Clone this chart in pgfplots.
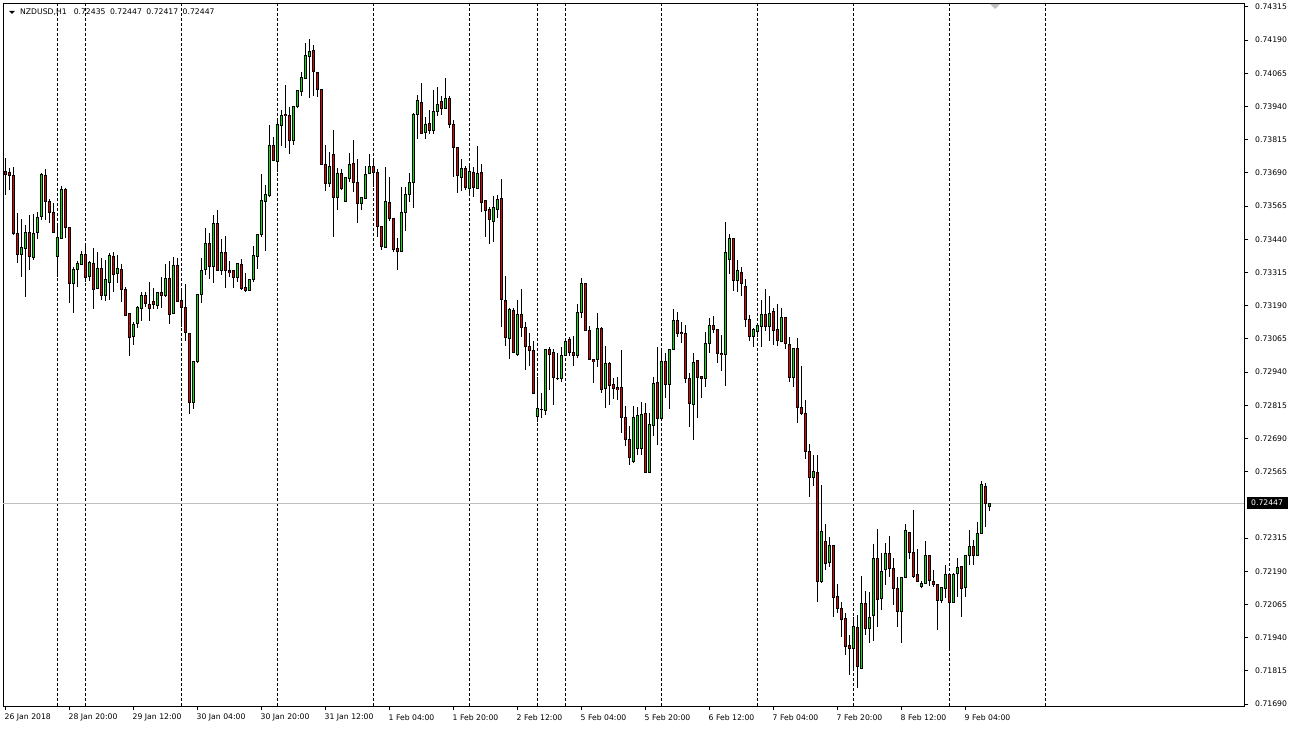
\documentclass[border=0pt]{standalone}
\usepackage{fontspec}
\setmainfont{DejaVu Sans}
\usepackage{pgfplots}
\usepackage{pgfplotstable}
\pgfplotsset{compat=1.18}
\definecolor{bull}{RGB}{0,230,0}
\definecolor{bear}{RGB}{230,0,0}
\definecolor{curline}{RGB}{192,192,192}
\pgfplotstableread{
i o h l c
0 0.73696 0.73745 0.73607 0.73685
1 0.73690 0.73708 0.73626 0.73681
2 0.73679 0.73711 0.73456 0.73463
3 0.73463 0.73538 0.73350 0.73384
4 0.73384 0.73517 0.73299 0.73410
5 0.73406 0.73494 0.73224 0.73467
6 0.73467 0.73532 0.73325 0.73375
7 0.73371 0.73536 0.73362 0.73463
8 0.73467 0.73544 0.73440 0.73523
9 0.73525 0.73688 0.73513 0.73685
10 0.73682 0.73705 0.73513 0.73582
11 0.73584 0.73592 0.73500 0.73542
12 0.73542 0.73576 0.73465 0.73467
13 0.73375 0.73494 0.73299 0.73448
14 0.73444 0.73641 0.73441 0.73629
15 0.73629 0.73632 0.73446 0.73484
16 0.73485 0.73488 0.73201 0.73272
17 0.73275 0.73337 0.73162 0.73328
18 0.73327 0.73360 0.73262 0.73350
19 0.73346 0.73396 0.73343 0.73384
20 0.73384 0.73423 0.73281 0.73297
21 0.73299 0.73360 0.73283 0.73354
22 0.73350 0.73406 0.73177 0.73253
23 0.73256 0.73391 0.73253 0.73331
24 0.73331 0.73369 0.73212 0.73230
25 0.73227 0.73362 0.73209 0.73290
26 0.73278 0.73388 0.73212 0.73381
27 0.73375 0.73394 0.73242 0.73308
28 0.73310 0.73381 0.73275 0.73331
29 0.73327 0.73346 0.73205 0.73252
30 0.73252 0.73259 0.73153 0.73155
31 0.73162 0.73164 0.73002 0.73071
32 0.73073 0.73128 0.73042 0.73121
33 0.73124 0.73189 0.73105 0.73184
34 0.73180 0.73241 0.73134 0.73228
35 0.73228 0.73241 0.73184 0.73199
36 0.73195 0.73278 0.73134 0.73180
37 0.73205 0.73256 0.73178 0.73193
38 0.73190 0.73243 0.73178 0.73241
39 0.73241 0.73297 0.73180 0.73230
40 0.73230 0.73346 0.73224 0.73291
41 0.73291 0.73358 0.73121 0.73158
42 0.73162 0.73375 0.73158 0.73343
43 0.73343 0.73369 0.73203 0.73205
44 0.73208 0.73252 0.73111 0.73184
45 0.73184 0.73272 0.73058 0.73090
46 0.73086 0.73088 0.72781 0.72826
47 0.72826 0.72982 0.72801 0.72979
48 0.72979 0.73235 0.72973 0.73233
49 0.73233 0.73369 0.73201 0.73321
50 0.73327 0.73482 0.73306 0.73425
51 0.73423 0.73463 0.73291 0.73337
52 0.73337 0.73532 0.73275 0.73500
53 0.73500 0.73551 0.73320 0.73322
54 0.73322 0.73441 0.73304 0.73391
55 0.73391 0.73454 0.73256 0.73322
56 0.73321 0.73358 0.73299 0.73314
57 0.73321 0.73322 0.73256 0.73297
58 0.73297 0.73352 0.73278 0.73350
59 0.73346 0.73366 0.73249 0.73256
60 0.73257 0.73312 0.73242 0.73249
61 0.73249 0.73289 0.73246 0.73287
62 0.73290 0.73416 0.73281 0.73381
63 0.73375 0.73462 0.73327 0.73460
64 0.73459 0.73686 0.73450 0.73588
65 0.73582 0.73645 0.73397 0.73607
66 0.73604 0.73871 0.73601 0.73795
67 0.73795 0.73824 0.73734 0.73736
68 0.73732 0.73896 0.73695 0.73871
69 0.73868 0.73927 0.73793 0.73908
70 0.73912 0.74021 0.73783 0.73906
71 0.73908 0.73940 0.73761 0.73812
72 0.73812 0.73942 0.73795 0.73940
73 0.73940 0.74001 0.73934 0.73999
74 0.73996 0.74071 0.73981 0.74050
75 0.74047 0.74178 0.74043 0.74131
76 0.74128 0.74193 0.73974 0.74149
77 0.74153 0.74172 0.73980 0.74071
78 0.74069 0.74071 0.73977 0.74005
79 0.74005 0.74007 0.73721 0.73723
80 0.73723 0.73795 0.73623 0.73651
81 0.73649 0.73770 0.73638 0.73714
82 0.73760 0.73852 0.73448 0.73598
83 0.73597 0.73710 0.73551 0.73689
84 0.73689 0.73705 0.73626 0.73630
85 0.73582 0.73676 0.73580 0.73674
86 0.73670 0.73764 0.73655 0.73723
87 0.73726 0.73814 0.73620 0.73655
88 0.73655 0.73743 0.73503 0.73576
89 0.73576 0.73600 0.73551 0.73598
90 0.73595 0.73717 0.73593 0.73685
91 0.73689 0.73760 0.73687 0.73714
92 0.73714 0.73739 0.73638 0.73693
93 0.73693 0.73705 0.73450 0.73488
94 0.73490 0.73492 0.73400 0.73412
95 0.73409 0.73711 0.73407 0.73582
96 0.73580 0.73674 0.73510 0.73519
97 0.73519 0.73521 0.73394 0.73400
98 0.73406 0.73444 0.73325 0.73394
99 0.73394 0.73636 0.73392 0.73542
100 0.73540 0.73636 0.73473 0.73610
101 0.73610 0.73691 0.73582 0.73653
102 0.73653 0.73917 0.73559 0.73912
103 0.73911 0.73984 0.73818 0.73962
104 0.73956 0.74028 0.73837 0.73839
105 0.73842 0.73900 0.73817 0.73873
106 0.73877 0.73927 0.73836 0.73848
107 0.73848 0.74001 0.73836 0.73921
108 0.73921 0.74013 0.73905 0.73946
109 0.73958 0.73980 0.73908 0.73934
110 0.73934 0.74047 0.73932 0.73971
111 0.73971 0.73980 0.73858 0.73871
112 0.73871 0.73890 0.73676 0.73787
113 0.73787 0.73789 0.73616 0.73679
114 0.73674 0.73743 0.73623 0.73705
115 0.73705 0.73717 0.73626 0.73636
116 0.73632 0.73720 0.73613 0.73697
117 0.73693 0.73711 0.73598 0.73636
118 0.73632 0.73792 0.73629 0.73689
119 0.73693 0.73724 0.73542 0.73580
120 0.73588 0.73590 0.73450 0.73548
121 0.73551 0.73561 0.73421 0.73516
122 0.73507 0.73603 0.73431 0.73559
123 0.73553 0.73607 0.73519 0.73591
124 0.73595 0.73667 0.73111 0.73214
125 0.73208 0.73302 0.73038 0.73071
126 0.73067 0.73180 0.72988 0.73177
127 0.73171 0.73180 0.73011 0.73013
128 0.73005 0.73212 0.73001 0.73158
129 0.73158 0.73253 0.73073 0.73109
130 0.73109 0.73130 0.72948 0.73036
131 0.73038 0.73086 0.72963 0.73020
132 0.73020 0.73058 0.72858 0.72860
133 0.72772 0.72923 0.72753 0.72804
134 0.72800 0.72863 0.72766 0.72801
135 0.72797 0.73028 0.72779 0.73026
136 0.73026 0.73036 0.72873 0.73008
137 0.73014 0.73027 0.72816 0.72921
138 0.72917 0.73011 0.72910 0.72917
139 0.72917 0.73036 0.72904 0.73004
140 0.73004 0.73070 0.73001 0.73057
141 0.73061 0.73073 0.73001 0.73015
142 0.73015 0.73076 0.72963 0.73001
143 0.73001 0.73195 0.72994 0.73165
144 0.73165 0.73293 0.73143 0.73272
145 0.73275 0.73277 0.73093 0.73095
146 0.73095 0.73115 0.72986 0.72988
147 0.72988 0.72990 0.72898 0.72979
148 0.72986 0.73162 0.72960 0.73105
149 0.73105 0.73111 0.72860 0.72875
150 0.72879 0.73038 0.72806 0.72973
151 0.72973 0.72979 0.72816 0.72889
152 0.72894 0.72919 0.72838 0.72879
153 0.72881 0.72921 0.72835 0.72875
154 0.72881 0.73023 0.72710 0.72770
155 0.72770 0.72812 0.72662 0.72687
156 0.72687 0.72737 0.72590 0.72619
157 0.72605 0.72812 0.72599 0.72770
158 0.72653 0.72810 0.72628 0.72775
159 0.72653 0.72826 0.72628 0.72782
160 0.72785 0.72823 0.72559 0.72563
161 0.72563 0.72785 0.72561 0.72741
162 0.72738 0.72923 0.72701 0.72898
163 0.72902 0.73034 0.72666 0.72766
164 0.72765 0.73031 0.72756 0.72981
165 0.72979 0.73011 0.72841 0.72895
166 0.72895 0.73028 0.72801 0.73026
167 0.73026 0.73178 0.73024 0.73133
168 0.73133 0.73168 0.73073 0.73086
169 0.73090 0.73130 0.73051 0.73086
170 0.73086 0.73117 0.72898 0.72917
171 0.72917 0.72936 0.72734 0.72823
172 0.72819 0.73011 0.72684 0.72977
173 0.72982 0.72984 0.72768 0.72919
174 0.72925 0.72927 0.72841 0.72917
175 0.72917 0.73090 0.72883 0.73049
176 0.73049 0.73143 0.73013 0.73117
177 0.73117 0.73151 0.73086 0.73099
178 0.73099 0.73102 0.72976 0.73011
179 0.73011 0.73080 0.72945 0.73007
180 0.73007 0.73504 0.72889 0.73391
181 0.73365 0.73459 0.73308 0.73444
182 0.73444 0.73446 0.73247 0.73284
183 0.73284 0.73362 0.73243 0.73321
184 0.73314 0.73335 0.73227 0.73272
185 0.73264 0.73290 0.73109 0.73139
186 0.73139 0.73155 0.73057 0.73073
187 0.73073 0.73107 0.73034 0.73099
188 0.73092 0.73124 0.73073 0.73117
189 0.73111 0.73212 0.73036 0.73158
190 0.73158 0.73253 0.73096 0.73111
191 0.73111 0.73227 0.73058 0.73162
192 0.73170 0.73180 0.73042 0.73096
193 0.73099 0.73197 0.73040 0.73058
194 0.73055 0.73180 0.73053 0.73147
195 0.73147 0.73149 0.73027 0.73049
196 0.73045 0.73073 0.72904 0.72919
197 0.72919 0.73032 0.72885 0.73030
198 0.73030 0.73067 0.72750 0.72808
199 0.72808 0.72963 0.72779 0.72785
200 0.72785 0.72835 0.72612 0.72640
201 0.72640 0.72669 0.72469 0.72544
202 0.72544 0.72628 0.72512 0.72565
203 0.72563 0.72628 0.72075 0.72151
204 0.72151 0.72515 0.72145 0.72339
205 0.72301 0.72367 0.72195 0.72220
206 0.72222 0.72320 0.72207 0.72286
207 0.72286 0.72288 0.72017 0.72092
208 0.72094 0.72142 0.72032 0.72051
209 0.72051 0.72075 0.71941 0.72009
210 0.72013 0.72032 0.71875 0.71906
211 0.71910 0.71950 0.71799 0.71900
212 0.71900 0.72017 0.71825 0.71981
213 0.71979 0.72025 0.71749 0.71831
214 0.71825 0.72172 0.71821 0.72067
215 0.72069 0.72117 0.71950 0.71975
216 0.71975 0.72113 0.71921 0.72017
217 0.72022 0.72292 0.71929 0.72239
218 0.72239 0.72349 0.71981 0.72084
219 0.72088 0.72258 0.72044 0.72188
220 0.72195 0.72298 0.72138 0.72258
221 0.72258 0.72323 0.72167 0.72199
222 0.72201 0.72239 0.72063 0.72126
223 0.72126 0.72170 0.71981 0.72038
224 0.72038 0.72169 0.71921 0.72167
225 0.72167 0.72368 0.72164 0.72345
226 0.72337 0.72339 0.72235 0.72260
227 0.72260 0.72421 0.72164 0.72172
228 0.72176 0.72274 0.72151 0.72153
229 0.72132 0.72153 0.72128 0.72145
230 0.72145 0.72305 0.72143 0.72251
231 0.72251 0.72253 0.72136 0.72155
232 0.72153 0.72195 0.72132 0.72141
233 0.72141 0.72143 0.71969 0.72079
234 0.72079 0.72132 0.72069 0.72130
235 0.72126 0.72214 0.72088 0.72179
236 0.72176 0.72182 0.71894 0.72072
237 0.72073 0.72185 0.72072 0.72179
238 0.72182 0.72239 0.72092 0.72205
239 0.72207 0.72209 0.72019 0.72126
240 0.72130 0.72253 0.72092 0.72251
241 0.72251 0.72345 0.72214 0.72285
242 0.72285 0.72308 0.72214 0.72248
243 0.72249 0.72377 0.72247 0.72333
244 0.72333 0.72530 0.72331 0.72515
245 0.72511 0.72521 0.72356 0.72446
246 0.72435 0.72447 0.72417 0.72447
}\data
\newcommand\lbl{\fontsize{7.7}{9}\selectfont}
\pgfplotsset{candle/.style={only marks, mark=*, mark size=0pt,
  mark options={draw=none, fill=none}, forget plot}}
\begin{document}
\begin{tikzpicture}
\path[use as bounding box] (-3pt,-23pt) rectangle (1287pt,706pt);
\begin{axis}[
  scale only axis, width=1241.5pt, height=702pt,
  xmin=-0.625, xmax=309.75, ymin=0.7168256, ymax=0.7432630,
  clip=false,
  axis line style={black, line width=1pt},
  tick align=outside, major tick length=4pt,
  tick style={black, line width=1pt},
  xtick pos=lower, ytick pos=upper, yticklabel pos=upper,
  xtick={0,16,...,240},
  xticklabels={26 Jan 2018,28 Jan 20:00,29 Jan 12:00,30 Jan 04:00,30 Jan 20:00,31 Jan 12:00,1 Feb 04:00,1 Feb 20:00,2 Feb 12:00,5 Feb 04:00,5 Feb 20:00,6 Feb 12:00,7 Feb 04:00,7 Feb 20:00,8 Feb 12:00,9 Feb 04:00},
  xticklabel style={anchor=north west, inner sep=0pt, xshift=-1pt, yshift=-4pt, font=\lbl},
  ytick={0.71690,0.71815,0.71940,0.72065,0.72190,0.72315,0.72565,0.72690,0.72815,0.72940,0.73065,0.73190,0.73315,0.73440,0.73565,0.73690,0.73815,0.73940,0.74065,0.74190,0.74315},
  yticklabels={0.71690,0.71815,0.71940,0.72065,0.72190,0.72315,0.72565,0.72690,0.72815,0.72940,0.73065,0.73190,0.73315,0.73440,0.73565,0.73690,0.73815,0.73940,0.74065,0.74190,0.74315},
  yticklabel style={anchor=west, inner sep=0pt, xshift=6.5pt, font=\lbl},
  extra x ticks={13,20,44,68,92,116,133,140,164,188,212,236,260},
  extra x tick labels={},
  extra x tick style={grid=major, major tick length=0pt,
    major grid style={black, line width=1pt, dash pattern=on 3pt off 2pt}},
]
% current price line
\addplot[curline, line width=1pt, forget plot] coordinates {(-0.625,0.72447) (309.75,0.72447)};
% wicks
\addplot[candle,
  error bars/.cd, y dir=both, y explicit, error mark=none,
  error bar style={line width=1pt, black, solid}]
  table[x=i, y expr={0.5*(\thisrow{h}+\thisrow{l})}, y error expr={0.5*(\thisrow{h}-\thisrow{l})}] {\data};
% body outlines
\addplot[candle,
  error bars/.cd, y dir=both, y explicit, error mark=none,
  error bar style={line width=3pt, black, solid}]
  table[x=i, y expr={0.5*(\thisrow{o}+\thisrow{c})}, y error expr={0.5*abs(\thisrow{o}-\thisrow{c})+0.0000188}] {\data};
% bull fill
\addplot[candle,
  error bars/.cd, y dir=both, y explicit, error mark=none,
  error bar style={line width=1pt, bull, solid}]
  table[x=i, y expr={0.5*(\thisrow{o}+\thisrow{c})}, y error expr={max(0.5*(\thisrow{c}-\thisrow{o})-0.0000188,0)}] {\data};
% bear fill
\addplot[candle,
  error bars/.cd, y dir=both, y explicit, error mark=none,
  error bar style={line width=1pt, bear, solid}]
  table[x=i, y expr={0.5*(\thisrow{o}+\thisrow{c})}, y error expr={max(0.5*(\thisrow{o}-\thisrow{c})-0.0000188,0)}] {\data};
\node[fill=black, text=white, anchor=west, inner xsep=4.5pt, inner ysep=0pt, minimum height=12pt, font=\lbl, xshift=2pt] at (axis cs:309.75,0.72447) {0.72447};
\end{axis}
\fill[black] (6pt,695pt) -- (12pt,695pt) -- (9pt,692pt) -- cycle;
\node[anchor=west, inner sep=0pt, font=\lbl] at (17pt,694pt) {NZDUSD,H1\hspace{7pt}0.72435\hspace{4.5pt}0.72447\hspace{4.5pt}0.72417\hspace{4.5pt}0.72447};
\fill[black!25] (987pt,702pt) -- (997pt,702pt) -- (992pt,697pt) -- cycle;
\end{tikzpicture}
\end{document}
